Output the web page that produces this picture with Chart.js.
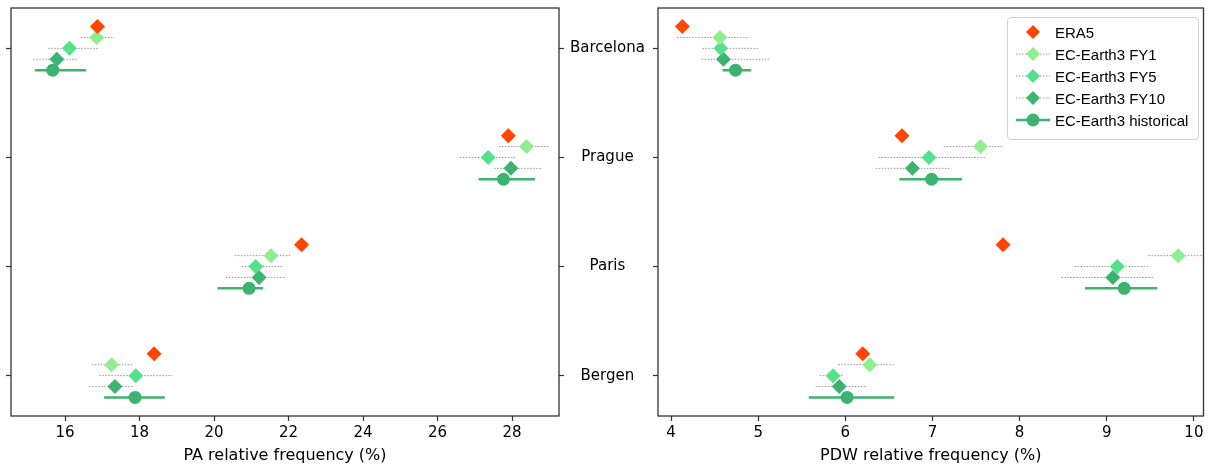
<!DOCTYPE html>
<html>
<head>
<meta charset="utf-8">
<script src="https://cdn.jsdelivr.net/npm/chart.js@4.4.1/dist/chart.umd.min.js"></script>
<style>
    body { margin: 0; width: 1211px; height: 468px; background: #fff; position: relative; overflow: hidden; }
    #pa-canvas { position: absolute; left: 0; top: 0; }
    #pdw-canvas { position: absolute; left: 650px; top: 0; }
    #legend {
        position: absolute; left: 1007px; top: 17px; width: 190px; height: 118px;
        border: 1px solid #d0d0d0; border-radius: 4px; background: rgba(255,255,255,0.8);
        padding-top: 3px; box-sizing: content-box;
        font-family: 'Liberation Sans', Arial, sans-serif; font-size: 15px; color: #000;
    }
    .legend-row { height: 22px; display: flex; align-items: center; }
    .legend-row canvas { margin-left: 8px; margin-right: 5px; }
</style>
</head>
<body>
<canvas id="pa-canvas" width="660" height="468"></canvas>
<canvas id="pdw-canvas" width="561" height="468"></canvas>
<div id="legend"></div>
<script>
const cities = ['Barcelona', 'Prague', 'Paris', 'Bergen']
const seriesNames = ['ERA5', 'EC-Earth3 FY1', 'EC-Earth3 FY5', 'EC-Earth3 FY10', 'EC-Earth3 historical']
const paTicks = [16, 18, 20, 22, 24, 26, 28]
const pdwTicks = [4, 5, 6, 7, 8, 9, 10]

// PA relative frequency (%), one value per city
const paEra5 = [16.87, 27.90, 22.35, 18.39]
const paFy1 = [16.85, 28.39, 21.53, 17.25]
const paFy1Lo = [16.43, 27.65, 20.56, 16.72]
const paFy1Hi = [17.32, 29.02, 22.04, 17.82]
const paFy5 = [16.12, 27.36, 21.12, 17.90]
const paFy5Lo = [15.55, 26.60, 20.74, 16.92]
const paFy5Hi = [16.91, 28.08, 21.83, 18.88]
const paFy10 = [15.78, 27.97, 21.21, 17.34]
const paFy10Lo = [15.15, 27.52, 20.32, 16.65]
const paFy10Hi = [16.33, 28.78, 21.91, 17.85]
const paHist = [15.67, 27.77, 20.94, 17.88]
const paHistLo = [15.19, 27.10, 20.09, 17.05]
const paHistHi = [16.56, 28.62, 21.32, 18.68]

// PDW relative frequency (%)
const pdwEra5 = [4.13, 6.65, 7.81, 6.20]
const pdwFy1 = [4.56, 7.55, 9.82, 6.28]
const pdwFy1Lo = [4.07, 7.13, 9.48, 5.92]
const pdwFy1Hi = [4.89, 7.80, 10.20, 6.56]
const pdwFy5 = [4.57, 6.96, 9.12, 5.86]
const pdwFy5Lo = [4.36, 6.38, 8.63, 5.71]
const pdwFy5Hi = [5.00, 7.62, 9.47, 5.97]
const pdwFy10 = [4.60, 6.77, 9.07, 5.93]
const pdwFy10Lo = [4.35, 6.35, 8.48, 5.66]
const pdwFy10Hi = [5.14, 7.19, 9.53, 6.25]
const pdwHist = [4.74, 6.99, 9.20, 6.02]
const pdwHistLo = [4.59, 6.62, 8.75, 5.58]
const pdwHistHi = [4.92, 7.34, 9.58, 6.56]

const offsets = [-0.2, -0.1, 0, 0.1, 0.2]
const colors = ['#ff4500', '#90ee90', '#55e08c', '#3cb371', '#3cb371']
const shapes = ['rectRot', 'rectRot', 'rectRot', 'rectRot', 'circle']
const radii = [7.5, 7.5, 7.5, 7.5, 6.5]
const axisColor = '#333'

Chart.defaults.font.family = "'DejaVu Sans', sans-serif"
Chart.defaults.font.size = 15
Chart.defaults.color = '#000'

const errorBars = {
    id: 'errorBars',
    beforeDatasetDraw(chart, args) {
        const ds = chart.data.datasets[args.index]
        if (!ds.lo) return
        const { ctx, chartArea, scales: { x, y } } = chart
        ctx.save()
        ctx.beginPath()
        ctx.rect(chartArea.left, chartArea.top, chartArea.width, chartArea.height)
        ctx.clip()
        ctx.strokeStyle = ds.errColor
        ctx.lineWidth = ds.errWidth
        ctx.setLineDash(ds.errDash)
        ds.data.forEach((p, i) => {
            const py = y.getPixelForValue(p.y)
            ctx.beginPath()
            ctx.moveTo(x.getPixelForValue(ds.lo[i]), py)
            ctx.lineTo(x.getPixelForValue(ds.hi[i]), py)
            ctx.stroke()
        })
        ctx.restore()
    }
}

const frame = {
    id: 'frame',
    afterDatasetsDraw(chart) {
        const { ctx, chartArea: a } = chart
        ctx.save()
        ctx.strokeStyle = axisColor
        ctx.lineWidth = 1.3
        ctx.strokeRect(a.left, a.top, a.width, a.height)
        ctx.restore()
    }
}

function buildDatasets(series, lows, highs) {
    return series.map((values, k) => ({
        label: seriesNames[k],
        data: values.map((v, i) => ({ x: v, y: i + offsets[k] })),
        lo: lows[k],
        hi: highs[k],
        errColor: k === 4 ? '#3cb371' : '#9a9a9a',
        errWidth: k === 4 ? 2.5 : 1,
        errDash: k === 4 ? [] : [1.5, 1.5],
        pointStyle: shapes[k],
        pointRadius: radii[k],
        backgroundColor: colors[k],
        borderColor: colors[k],
        borderWidth: 0
    }))
}

const categoryAxis = (position, showLabels, width) => ({
    type: 'linear',
    position,
    reverse: true,
    min: -0.37,
    max: 3.37,
    afterBuildTicks: axis => { axis.ticks = cities.map((c, i) => ({ value: i })) },
    afterFit: axis => {
        axis.width = width
        axis.paddingTop = 0
        axis.paddingBottom = 0
    },
    border: { display: false },
    grid: { drawOnChartArea: false, drawTicks: true, tickLength: 5, tickColor: axisColor, tickWidth: 1.2 },
    ticks: {
        display: showLabels,
        crossAlign: 'center',
        padding: 6,
        callback: v => cities[v]
    }
})

const valueAxis = (min, max, tickValues, title) => ({
    type: 'linear',
    position: 'bottom',
    min,
    max,
    afterBuildTicks: axis => { axis.ticks = tickValues.map(v => ({ value: v })) },
    afterFit: axis => { axis.height = 52 },
    border: { display: false },
    grid: { drawOnChartArea: false, drawTicks: true, tickLength: 5, tickColor: axisColor, tickWidth: 1.2 },
    ticks: { padding: 3, maxRotation: 0 },
    title: { display: true, text: title, font: { size: 16 }, padding: { top: 0, bottom: 3 } }
})

new Chart(document.querySelector('#pa-canvas'), {
    type: 'scatter',
    data: {
        datasets: buildDatasets(
            [paEra5, paFy1, paFy5, paFy10, paHist],
            [null, paFy1Lo, paFy5Lo, paFy10Lo, paHistLo],
            [null, paFy1Hi, paFy5Hi, paFy10Hi, paHistHi]
        )
    },
    options: {
        responsive: false,
        animation: false,
        events: [],
        layout: { padding: { top: 8, left: 0, right: 0, bottom: 0 } },
        plugins: { legend: { display: false }, tooltip: { enabled: false } },
        scales: {
            x: valueAxis(14.55, 29.26, paTicks, 'PA relative frequency (%)'),
            y: categoryAxis('left', false, 11),
            y2: categoryAxis('right', true, 101)
        }
    },
    plugins: [errorBars, frame]
})

new Chart(document.querySelector('#pdw-canvas'), {
    type: 'scatter',
    data: {
        datasets: buildDatasets(
            [pdwEra5, pdwFy1, pdwFy5, pdwFy10, pdwHist],
            [null, pdwFy1Lo, pdwFy5Lo, pdwFy10Lo, pdwHistLo],
            [null, pdwFy1Hi, pdwFy5Hi, pdwFy10Hi, pdwHistHi]
        )
    },
    options: {
        responsive: false,
        animation: false,
        events: [],
        layout: { padding: { top: 8, left: 0, right: 6, bottom: 0 } },
        plugins: { legend: { display: false }, tooltip: { enabled: false } },
        scales: {
            x: valueAxis(3.85, 10.11, pdwTicks, 'PDW relative frequency (%)'),
            y: categoryAxis('left', false, 8)
        }
    },
    plugins: [errorBars, frame]
})

// legend drawn as html, handles on small canvases
const legend = document.querySelector('#legend')
seriesNames.forEach((name, k) => {
    const row = document.createElement('div')
    row.className = 'legend-row'
    const handle = document.createElement('canvas')
    handle.width = 34
    handle.height = 22
    const ctx = handle.getContext('2d')
    if (k > 0) {
        ctx.strokeStyle = k === 4 ? '#3cb371' : '#9a9a9a'
        ctx.lineWidth = k === 4 ? 2.5 : 1
        ctx.setLineDash(k === 4 ? [] : [1.5, 1.5])
        ctx.beginPath()
        ctx.moveTo(0, 11)
        ctx.lineTo(34, 11)
        ctx.stroke()
    }
    ctx.fillStyle = colors[k]
    ctx.strokeStyle = colors[k]
    Chart.helpers.drawPoint(ctx, { pointStyle: shapes[k], radius: k === 4 ? 6.5 : 7, borderWidth: 0, rotation: 0 }, 17, 11)
    const label = document.createElement('span')
    label.textContent = name
    row.appendChild(handle)
    row.appendChild(label)
    legend.appendChild(row)
})
</script>
</body>
</html>
